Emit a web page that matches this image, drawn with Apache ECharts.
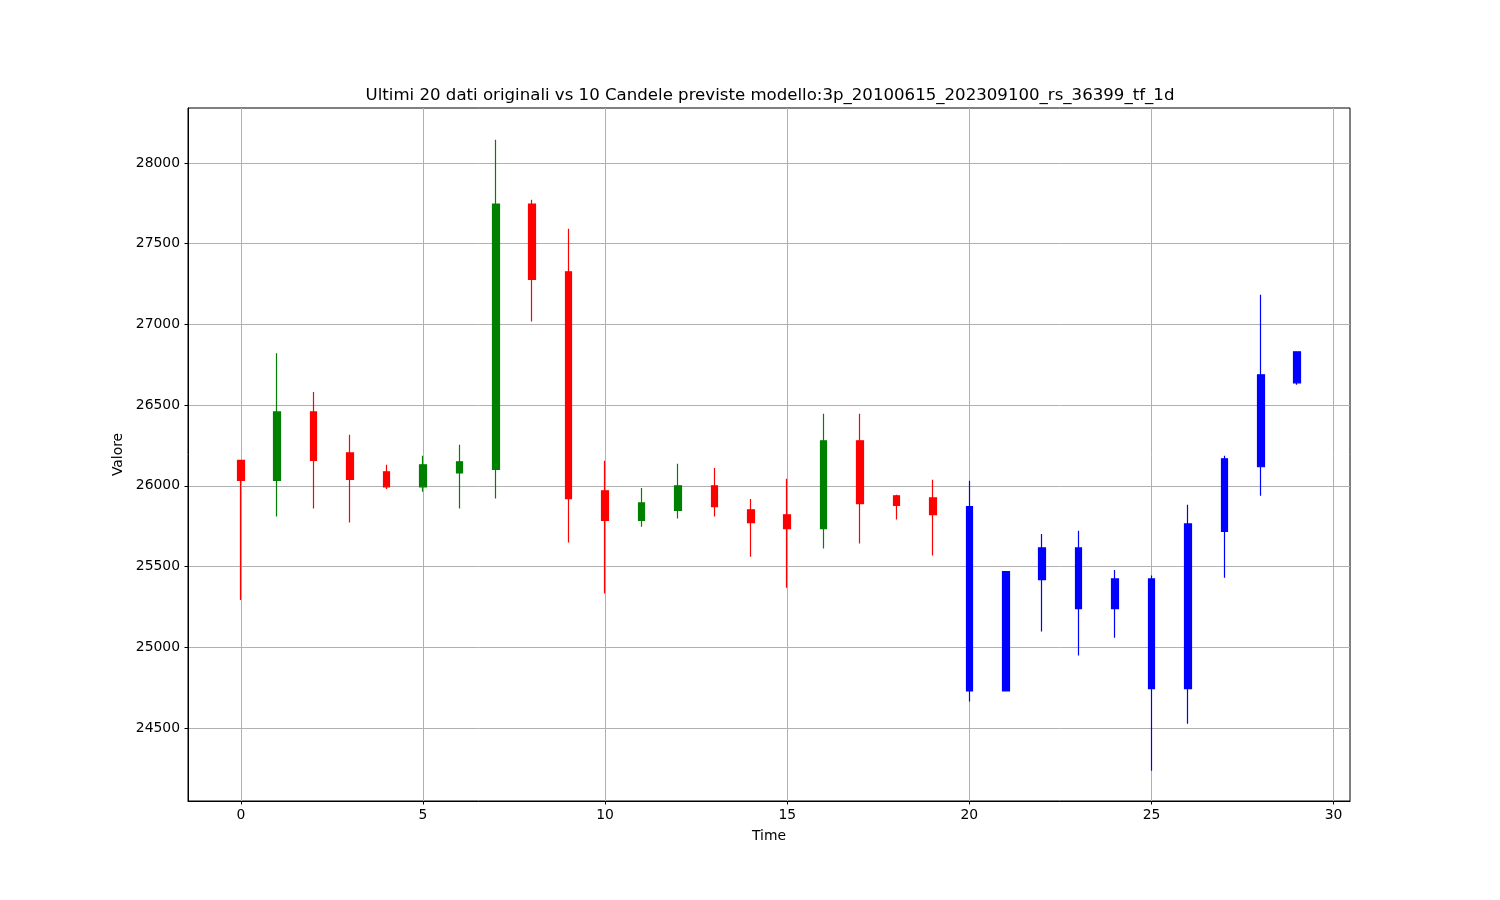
<!DOCTYPE html>
<html>
<head>
<meta charset="utf-8">
<script src="https://cdn.jsdelivr.net/npm/echarts@6/dist/echarts.min.js"></script>
<style>
html,body{margin:0;padding:0;background:#fff;}
#chart{width:1500px;height:900px;}
</style>
</head>
<body>
<div id="chart"></div>
<script>
// Original data (time 0..19)
const origTime  = [0,1,2,3,4,5,6,7,8,9,10,11,12,13,14,15,16,17,18,19];
const origOpen  = [26157,26033,26458,26204,26087,25994,26080,26101,27746,27326,25969,25785,25847,26000,25851,25820,25735,26279,25938,25925];
const origClose = [26033,26458,26157,26039,25994,26130,26149,27746,27279,25921,25785,25894,26000,25871,25772,25735,26279,25890,25878,25822];
const origLow   = [25293,25810,25859,25772,25981,25963,25859,25921,27018,25648,25332,25747,25797,25810,25560,25369,25611,25642,25791,25568];
const origHigh  = [26157,26822,26582,26316,26130,26186,26254,28144,27773,27593,26155,25987,26136,26111,25919,26043,26446,26446,25944,26037];

// Predicted candles (time 20..29)
const predTime  = [20,21,22,23,24,25,26,27,28,29];
const predOpen  = [25871,24729,25419,25615,25423,25423,24743,25717,26118,26638];
const predClose = [24729,25469,25615,25239,25239,24743,25764,26167,26688,26830];
const predLow   = [24663,24729,25097,24948,25059,24235,24526,25431,25938,26626];
const predHigh  = [26031,25469,25702,25721,25479,25444,25882,26186,27184,26830];

const xTicks = [0,5,10,15,20,25,30];
const yTicks = [24500,25000,25500,26000,26500,27000,27500,28000];

const titleText = 'Ultimi 20 dati originali vs 10 Candele previste modello:3p_20100615_202309100_rs_36399_tf_1d';

function rows(t,o,c,l,h){ return t.map((x,i)=>[x,o[i],c[i],l[i],h[i]]); }

const font = 'DejaVu Sans';
const chart = echarts.init(document.getElementById('chart'), null, {renderer:'canvas'});
chart.setOption({
  animation:false,
  backgroundColor:'#ffffff',
  title:{
    text:titleText, left:765, top:82, textAlign:'center',
    textStyle:{fontFamily:font,fontSize:16.6,fontWeight:'normal',color:'#000'}
  },
  grid:{left:188,right:150,top:108,bottom:99,show:true,borderColor:'#000',borderWidth:1,backgroundColor:'transparent'},
  xAxis:{
    type:'value', min:-1.45, max:30.45,
    name:'Time', nameLocation:'middle', nameGap:28,
    nameTextStyle:{fontFamily:font,fontSize:13.9,color:'#000'},
    axisLine:{show:true,onZero:false,lineStyle:{color:'#000',width:1}},
    axisTick:{show:true,length:3.5,customValues:xTicks,lineStyle:{color:'#000',width:1}},
    axisLabel:{customValues:xTicks,margin:7,fontFamily:font,fontSize:13.9,color:'#000',formatter:v=>String(v)},
    splitLine:{show:true,lineStyle:{color:'#b0b0b0',width:1}}
  },
  yAxis:{
    type:'value', min:24047, max:28341,
    name:'Valore', nameLocation:'middle', nameGap:62, nameRotate:90,
    nameTextStyle:{fontFamily:font,fontSize:13.9,color:'#000'},
    axisLine:{show:true,onZero:false,lineStyle:{color:'#000',width:1}},
    axisTick:{show:true,length:3.5,customValues:yTicks,lineStyle:{color:'#000',width:1}},
    axisLabel:{customValues:yTicks,margin:8,fontFamily:font,fontSize:13.9,color:'#000',formatter:v=>String(v)},
    splitLine:{show:true,lineStyle:{color:'#b0b0b0',width:1}}
  },
  series:[
    {
      type:'candlestick', name:'orig',
      data:rows(origTime,origOpen,origClose,origLow,origHigh),
      encode:{x:0,y:[1,2,3,4]},
      barWidth:7,
      itemStyle:{color:'#008000',color0:'#ff0000',borderColor:'#008000',borderColor0:'#ff0000',borderWidth:1.2}
    },
    {
      type:'candlestick', name:'pred',
      data:rows(predTime,predOpen,predClose,predLow,predHigh),
      encode:{x:0,y:[1,2,3,4]},
      barWidth:7,
      itemStyle:{color:'#0000ff',color0:'#0000ff',borderColor:'#0000ff',borderColor0:'#0000ff',borderWidth:1.2}
    }
  ]
});
</script>
</body>
</html>
